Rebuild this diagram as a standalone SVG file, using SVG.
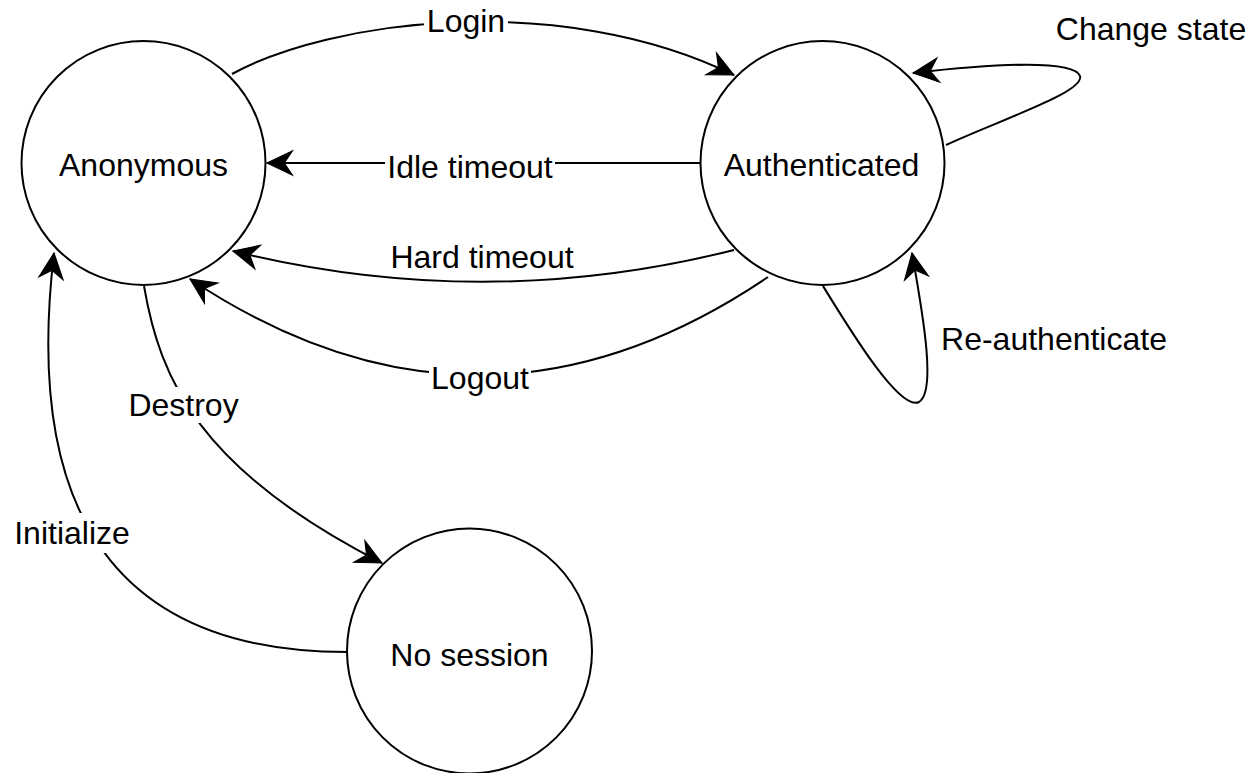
<svg xmlns="http://www.w3.org/2000/svg" width="1255" height="773" viewBox="0 0 1255 773">
  <style>
    .state { fill: #ffffff; stroke: #000000; stroke-width: 2; }
    .edge { fill: none; stroke: #000000; stroke-width: 2; }
    .txt { font-family: "Liberation Sans", Arial, Helvetica, sans-serif; font-size: 32px; fill: #000000; text-anchor: middle; }
    .bg { fill: #ffffff; stroke: none; }
  </style>
  <defs>
    <marker id="arrow" markerUnits="userSpaceOnUse" markerWidth="30" markerHeight="30" viewBox="-24 -12 26 24" refX="0" refY="0" orient="auto">
      <path d="M0,0 L-22,-10.5 L-15,0 L-22,10.5 Z" fill="#000000" stroke="#000000" stroke-width="1" stroke-linejoin="miter"/>
    </marker>
  </defs>

  <rect x="0" y="0" width="1255" height="773" fill="#ffffff"/>

  <!-- transitions -->
  <g id="connectors">
    <!-- Login -->
    <path class="edge" d="M232,74 C 330,20 560,-10 734,75" marker-end="url(#arrow)"/>
    <rect class="bg" x="424" y="6" width="84" height="36"/>
    <text class="txt" x="466" y="32">Login</text>

    <!-- Idle timeout -->
    <path class="edge" d="M700,163 L267,163" marker-end="url(#arrow)"/>
    <rect class="bg" x="385" y="150" width="170" height="32"/>
    <text class="txt" x="470" y="178">Idle timeout</text>

    <!-- Hard timeout -->
    <path class="edge" d="M734,250 Q 484,313 233,251" marker-end="url(#arrow)"/>
    <text class="txt" x="482" y="268">Hard timeout</text>

    <!-- Logout -->
    <path class="edge" d="M768,277 Q 480,472 190,279" marker-end="url(#arrow)"/>
    <rect class="bg" x="429" y="362" width="102" height="34"/>
    <text class="txt" x="480" y="389">Logout</text>

    <!-- Change state (self loop) -->
    <path class="edge" d="M946,145 C 1000,120 1085,92 1080,76 C 1074,60 1000,63 913,73" marker-end="url(#arrow)"/>
    <text class="txt" x="1151" y="40">Change state</text>

    <!-- Re-authenticate (self loop) -->
    <path class="edge" d="M823,286 C 850,330 900,412 919,402 C 936,392 924,320 912,253" marker-end="url(#arrow)"/>
    <text class="txt" x="1054" y="350">Re-authenticate</text>

    <!-- Destroy -->
    <path class="edge" d="M144,286 C 160,380 200,470 382,563" marker-end="url(#arrow)"/>
    <rect class="bg" x="126" y="387" width="116" height="36"/>
    <text class="txt" x="183.5" y="416">Destroy</text>

    <!-- Initialize -->
    <path class="edge" d="M347,652 C 140,652 20,540 54,253" marker-end="url(#arrow)"/>
    <rect class="bg" x="13" y="513" width="118" height="40"/>
    <text class="txt" x="72" y="544">Initialize</text>
  </g>

  <!-- states -->
  <g id="anonymous">
    <circle class="state" cx="143.5" cy="163" r="122"/>
    <text class="txt" x="143.5" y="176">Anonymous</text>
  </g>
  <g id="authenticated">
    <circle class="state" cx="822.5" cy="163" r="122"/>
    <text class="txt" x="821.5" y="176">Authenticated</text>
  </g>
  <g id="no-session">
    <circle class="state" cx="469.5" cy="651" r="122.5"/>
    <text class="txt" x="469.5" y="666">No session</text>
  </g>
</svg>
